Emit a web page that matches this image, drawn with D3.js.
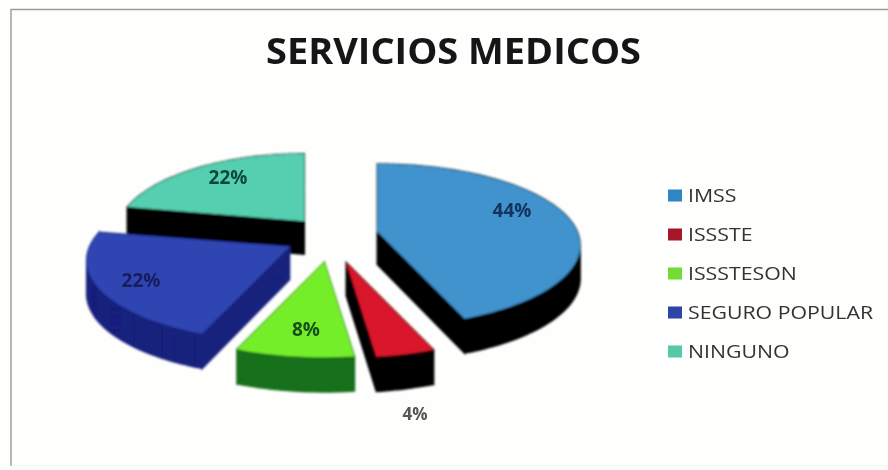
<!DOCTYPE html>
<html><head><meta charset="utf-8">
<script src="https://cdn.jsdelivr.net/npm/d3@7"></script>
<style>html,body{margin:0;padding:0;background:#fefefd}svg{display:block}</style>
</head><body><div id="chart"></div>
<script>
const categories = ["IMSS","ISSSTE","ISSSTESON","SEGURO POPULAR","NINGUNO"];
const values = [44,4,8,22,22];
const labels = ["44%","4%","8%","22%","22%"];
const topColors = ["#3f93cd","#d9142c","#74ee2c","#2f45b2","#55cfb0"];
const sideColors = ["#050505","#050505","#16701a","#14207c","#050505"];
const legendColors = ["#2f86c4","#a5122a","#72dc34","#2f45a8","#55c8a8"];
const labelColors = ["#12305e","#555","#14501a","#161f5c","#0d4a3a"];

const W=888,H=470;
const cx=330,cy=238,rx=200,ry=79,k=0.17,depth=33,depthGrow=0.25,explode=45,squash=0.54;
const sliceShiftX=[3,5,0,-1,3], sliceShiftY=[-2,1,0,-3,2], sliceRadius=[1,1,1,1,0.93];
const svg=d3.select("#chart").append("svg").attr("width",W).attr("height",H);
const defs=svg.append("defs");
defs.append("filter").attr("id","soft").append("feGaussianBlur").attr("stdDeviation",0.8);
defs.append("filter").attr("id","softText").append("feGaussianBlur").attr("stdDeviation",0.5);
const font="'Open Sans', 'Noto Sans', sans-serif";

svg.append("path").attr("d",`M11,${H-4}V9.5H${W}`).attr("fill","none").attr("stroke","#9a9a9a").attr("stroke-width",1.4).attr("filter","url(#softText)");
svg.append("path").attr("d",`M11,${H-4}H${W}`).attr("fill","none").attr("stroke","#f0f0f0");

svg.append("text").attr("x",453.5).attr("y",64).attr("text-anchor","middle")
  .attr("font-family",font).attr("font-weight",700).attr("font-size",36).attr("fill","#161616")
  .attr("textLength",375).attr("lengthAdjust","spacingAndGlyphs").attr("filter","url(#softText)").text("SERVICIOS MEDICOS");

const arcs=d3.pie().sort(null)(values);
const tScale=d3.scaleLinear().domain([0,1]);
function project(a,r){
  const u=Math.sin(a)*r,v=-Math.cos(a),p=1/(1-k*v);
  return {x:u*rx*p,y:v*ry*p,p};
}
const lineGen=d3.line().x(d=>d[0]).y(d=>d[1]);
const g=svg.append("g").attr("filter","url(#soft)");
const order=[4,0,3,2,1];
order.forEach(i=>{
  const s=arcs[i],mid=(s.startAngle+s.endAngle)/2;
  const ax=cx+Math.sin(mid)*explode+sliceShiftX[i],ay=cy-Math.cos(mid)*explode*squash+sliceShiftY[i];
  tScale.range([s.startAngle,s.endAngle]);
  const n=Math.max(8,Math.round((s.endAngle-s.startAngle)*30));
  const top=[{x:ax,y:ay,p:1}];
  d3.range(n+1).forEach(j=>{const q=project(tScale(j/n),sliceRadius[i]);top.push({x:ax+q.x,y:ay+q.y,p:q.p});});
  const drop=q=>depth*(1+(q.p-1)*depthGrow);
  const sl=g.append("g");
  // all side walls go into one path, each wound the same way, so that no seams or holes show
  const walls=top.map((q,j)=>{
    const r=top[(j+1)%top.length];
    const quad=[[q.x,q.y],[r.x,r.y],[r.x,r.y+drop(r)],[q.x,q.y+drop(q)]];
    if(d3.polygonArea(quad)<0) quad.reverse();
    return lineGen(quad)+"Z";
  }).join("");
  sl.append("path").attr("d",walls).attr("fill",sideColors[i]).attr("fill-rule","nonzero")
    .attr("stroke",sideColors[i]).attr("stroke-width",1.4);
  sl.append("path").attr("d",lineGen(top.map(q=>[q.x,q.y]))+"Z").attr("fill",topColors[i]);
});

const labelX=[512,415,306,141,228], labelY=[217,420,336,287,184];
labels.forEach((t,i)=>{
  svg.append("text").attr("x",labelX[i]).attr("y",labelY[i]).attr("text-anchor","middle")
    .attr("font-family",font).attr("font-weight",700).attr("font-size",i===1?17:19).attr("fill",labelColors[i])
    .attr("filter","url(#softText)").text(t);
});

const ly=d3.scalePoint().domain(categories).range([195,351]);
const lg=svg.append("g").attr("filter","url(#softText)");
categories.forEach((c,i)=>{
  lg.append("rect").attr("x",668).attr("y",ly(c)-5.5).attr("width",14).attr("height",12).attr("fill",legendColors[i]);
  const t=lg.append("text").attr("x",688).attr("y",ly(c)+7).attr("font-family",font).attr("font-size",19).attr("fill","#333").text(c);
  t.attr("textLength",t.node().getComputedTextLength()*1.12).attr("lengthAdjust","spacingAndGlyphs");
});
</script></body></html>
